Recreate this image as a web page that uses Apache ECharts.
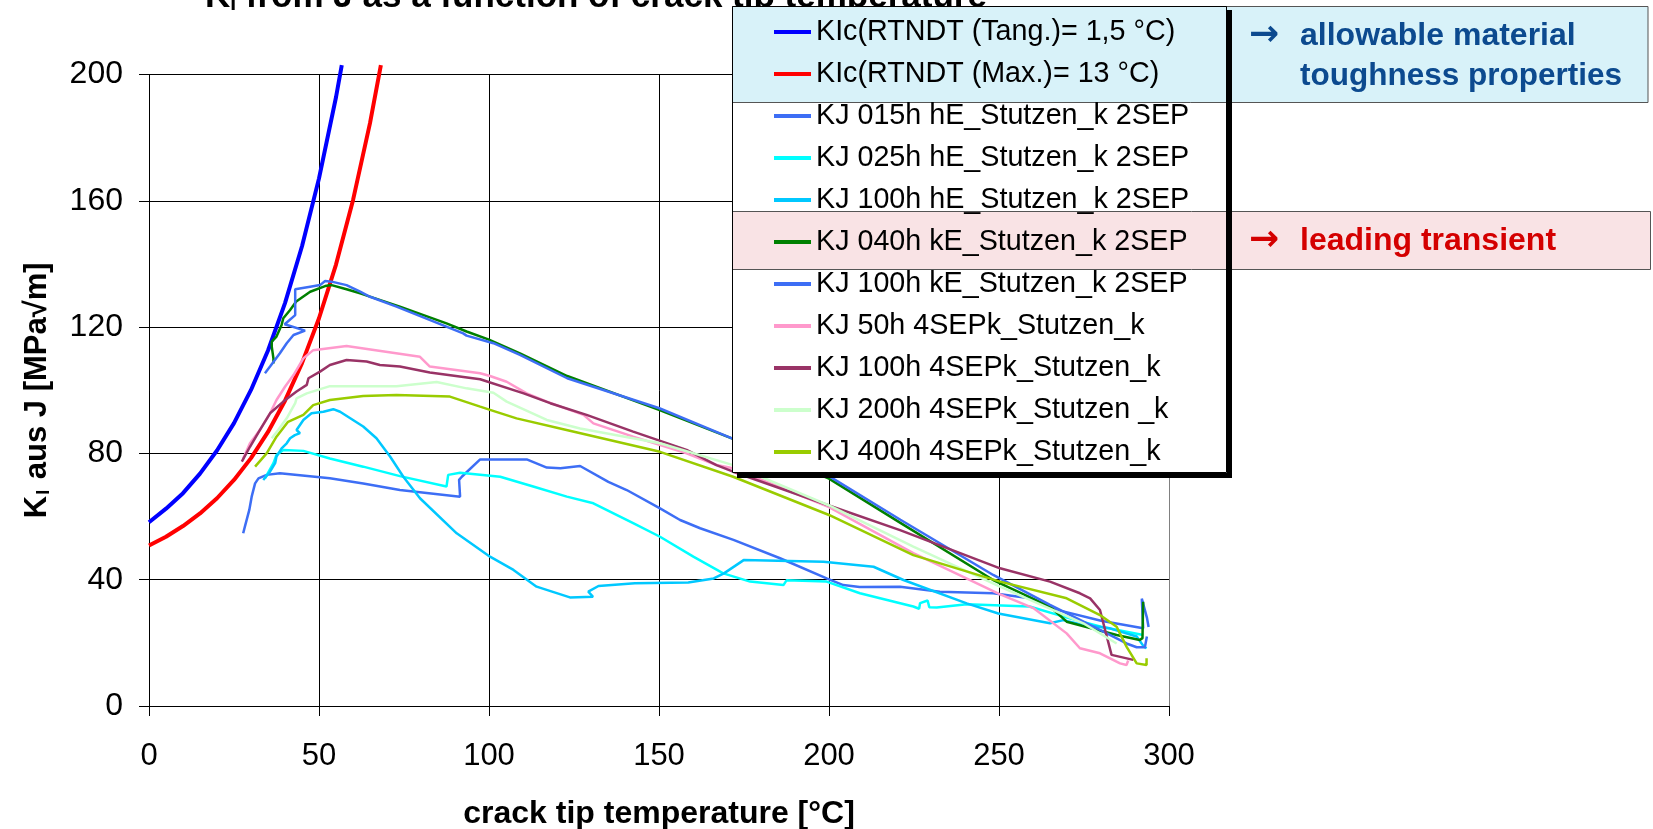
<!DOCTYPE html>
<html>
<head>
<meta charset="utf-8">
<script src="https://cdn.jsdelivr.net/npm/echarts@6/dist/echarts.min.js"></script>
<style>
  html, body { margin: 0; padding: 0; background: #ffffff; }
  #chart { width: 1653px; height: 829px; }
</style>
</head>
<body>
<div id="chart"></div>
<script>
// Axis ticks
const xTicks = [0, 50, 100, 150, 200, 250, 300];
const yTicks = [0, 40, 80, 120, 160, 200];

// Series names, in legend order
const seriesNames = [
  'KIc(RTNDT (Tang.)= 1,5 °C)',
  'KIc(RTNDT (Max.)= 13 °C)',
  'KJ 015h hE_Stutzen_k 2SEP',
  'KJ 025h hE_Stutzen_k 2SEP',
  'KJ 100h hE_Stutzen_k 2SEP',
  'KJ 040h kE_Stutzen_k 2SEP',
  'KJ 100h kE_Stutzen_k 2SEP',
  'KJ 50h 4SEPk_Stutzen_k',
  'KJ 100h 4SEPk_Stutzen_k',
  'KJ 200h 4SEPk_Stutzen _k',
  'KJ 400h 4SEPk_Stutzen_k'
];

// [crack tip temperature °C, K MPa√m]
const kicTang = [[0,58.2],[5,62.5],[10,67.4],[15,73.6],[20,80.9],[25,89.6],[30,100.1],[35,112.6],[40,127.6],[45,145.6],[50,167.1],[55,192.8],[56.7,203]];
const kicMax = [[0,50.8],[5,53.6],[10,57.0],[15,61.0],[20,65.8],[25,71.6],[30,78.5],[35,86.8],[40,96.7],[45,108.6],[50,122.8],[55,139.8],[60,160.2],[65,184.6],[68.2,203]];

const kj015hE = [[27.7,54.7],[28.2,56.8],[29.5,62.1],[30.2,66.3],[31.2,70.5],[32.2,72.1],[34.6,73.2],[38.5,73.7],[53.2,72.1],[63,70.5],[73.8,68.4],[91.5,66.3],[91.2,71.6],[92,72.6],[97.4,78.1],[111.1,78.1],[117,75.5],[121,75.3],[126.8,76],[135.1,71],[140.5,68.4],[150.3,62.6],[156.2,58.9],[162.1,56.3],[171.9,52.6],[185.6,46.8],[199.3,40.4],[204.2,38.3],[209,37.7],[220.9,37.8],[232.6,36.2],[248.3,35.7],[259.1,34.1],[268,30.2],[280,27],[292.4,24.6],[292,34],[293.5,28],[294,25]];

const kj025hE = [[34.1,72.1],[36.6,76.9],[37.5,79.5],[39.5,81.1],[45.4,80.8],[53.2,78.4],[63,75.8],[73.8,72.8],[87.5,69.5],[88,73.2],[91.5,73.9],[103.3,72.6],[113,69.5],[122.9,66.3],[130.7,64.2],[142.4,57.9],[150.3,53.6],[160.1,47.3],[168.9,42],[176.8,39.4],[186.6,38.3],[187.5,39.8],[199.3,39.4],[209.1,35.7],[224.8,31.5],[226.5,30.8],[226.8,32.6],[229,33.4],[229.5,31.3],[231.7,31.2],[240.5,32.2],[259,31.5],[270,28],[280,25.1],[292.4,22.5]];

const kj100hE = [[33.6,71.6],[35.6,74.2],[37.1,76.9],[37.5,79],[39,81.6],[40.5,83.2],[41.5,84.8],[42.9,85.8],[44.4,86.4],[43.4,87.4],[45.4,90.6],[47.8,92.7],[51.3,93.2],[54.2,94],[56.2,93.2],[63,88.5],[66.9,84.8],[70.9,79],[74.8,72.6],[79.7,65.8],[90.5,54.7],[100.3,47.3],[107.2,43.1],[114,37.8],[123.8,34.4],[130.6,34.6],[129.2,36.2],[132.2,38],[142.9,38.9],[158.6,39.1],[166.1,40.4],[169.1,42],[174.9,46.2],[198.4,45.7],[213.1,44.1],[221.9,39.9],[240.5,32.5],[249.8,29.3],[265,26.2],[268.9,27.2],[274.8,25.7],[282.6,24.6],[290.5,22],[292.6,18.8],[293.4,18.3]];

const kj040kE = [[36.6,108.5],[36.6,110.1],[36.1,113.8],[36.1,115.4],[37.5,117],[39,120.7],[39.5,122.8],[41.5,125.4],[43.3,128.1],[47.4,131.2],[51.8,133],[53.7,133.3],[58.1,132],[62.1,130.7],[73.8,126.5],[87.5,121.2],[93.4,118.6],[99.8,116.1],[109.1,111.7],[123,104.5],[150,93.8],[171.8,84.6],[200,72],[221,58],[248.3,39.9],[265,31.5],[269.9,26.7],[284.6,22.5],[291.4,20.9],[292.2,21.5],[292.4,33]];

const kj100kE = [[34.1,105.4],[35.6,107.5],[38.5,111.7],[40.5,114.9],[42.5,117.5],[45.9,118.9],[39.9,120.9],[43,123.8],[43,128.1],[43,132],[47.4,132.8],[50.3,133.3],[51.8,134.6],[53.7,134.4],[58.1,133.3],[62.1,131.2],[65,129.6],[72.8,126.5],[92.4,118],[93.4,117.3],[101.3,114.9],[109.1,111.2],[123,103.8],[150.1,94.3],[171.8,84.6],[200,72.8],[221,59],[248.3,41.5],[265,32],[279.7,24.1],[287.5,19.8],[290.5,18.6],[292.9,18.6],[293.5,22]];

const kj50h4 = [[27.7,78.4],[29.7,83.2],[32.6,87.4],[35.6,92.7],[37.5,96.9],[40,101.1],[42.5,104.8],[45.4,110.1],[48.3,112.7],[58.1,114],[79.7,110.6],[82.6,107.5],[97.4,105.4],[100.3,104.5],[105.2,102.7],[111.1,99],[117,96.4],[127.8,92.2],[130.7,89.5],[142.4,85.3],[158.1,80],[166.9,76.3],[171.8,75.3],[200,63],[224.8,48.4],[250,35.5],[260.1,31],[269.9,23],[273.8,18.3],[279.7,16.7],[285.6,13.5],[287.5,13],[288,14.4]];

const kj100h4 = [[27.3,77.4],[29.7,82.1],[32.6,87.4],[35.6,92.7],[39.5,96.4],[43.4,99.6],[46.4,101.7],[46.9,103.8],[50.3,105.9],[53.2,108],[58.1,109.6],[64,109.1],[67.9,108],[73.8,107.5],[82.6,105.6],[97.4,103.5],[110.2,99],[118,95.9],[128.7,92.2],[142.4,86.9],[158.1,81.1],[166.9,76.3],[171.8,74.2],[200,63.5],[220.9,55.7],[250.3,43.6],[265,39.4],[273.8,35.7],[276.8,34.1],[279.7,30.4],[280.7,26.2],[283.1,16.2],[289.5,14.6]];

const kj200h4 = [[36.1,84.8],[38,87.4],[40.5,91.1],[43,95.9],[43.4,97.4],[46.4,99],[53.2,101.3],[72.8,101.3],[84.6,102.6],[93.4,100.6],[101.3,99.2],[105.2,96.4],[117,90.6],[126.8,87.9],[150.3,83.2],[171.8,76.3],[200,63.5],[224.8,50.5],[250.3,37.8],[274.8,26.2],[284.6,19.8]];

const kj400h4 = [[31.2,75.8],[34.6,80],[37.5,85.3],[40.9,90],[45.4,92.2],[48.3,95.3],[53.2,96.9],[63,98.2],[72.8,98.5],[88.5,98],[97.4,94.8],[100.3,93.8],[108.1,91.1],[122.8,87.4],[150.3,80.5],[171.8,72.6],[200,60.5],[224.8,47.8],[250.3,39.4],[269.9,34.1],[279.7,28.8],[284.6,25.1],[287.5,18.8],[290.5,13.5],[293.4,13],[293.4,15.1]];

const curves = [kicTang, kicMax, kj015hE, kj025hE, kj100hE, kj040kE, kj100kE, kj50h4, kj100h4, kj200h4, kj400h4];

// Line colours per series
const palette = ['#0000ff', '#ff0000', '#3d6ef5', '#00ffff', '#00c8ff', '#008000', '#3d6ef5', '#ff99cc', '#993366', '#ccffcc', '#99cc00'];

const FONT = '"Liberation Sans", Arial, Helvetica, sans-serif';
const ARROW_FONT = '"DejaVu Sans", "Liberation Sans", sans-serif';
const BLUE_TEXT = '#0c4a8f';
const RED_TEXT = '#d40000';

const chart = echarts.init(document.getElementById('chart'), null, { renderer: 'canvas' });

const series = curves.map((pts, i) => ({
  name: seriesNames[i],
  type: 'line',
  data: pts,
  showSymbol: false,
  symbol: 'none',
  smooth: false,
  clip: false,
  z: 2,
  lineStyle: { color: palette[i], width: i < 2 ? 4 : 2.5 },
  itemStyle: { color: palette[i] }
}));

const option = {
  animation: false,
  color: palette,
  backgroundColor: '#ffffff',
  grid: { left: 149, top: 74.5, width: 1020, height: 631.5, containLabel: false, outerBoundsMode: 'none' },
  xAxis: {
    type: 'value',
    min: xTicks[0], max: xTicks[xTicks.length - 1], interval: xTicks[1] - xTicks[0],
    name: 'crack tip temperature [°C]',
    nameLocation: 'middle', nameGap: 92,
    nameTextStyle: { fontFamily: FONT, fontSize: 32, fontWeight: 'bold', color: '#000' },
    axisLine: { show: true, onZero: false, lineStyle: { color: '#000', width: 1 } },
    axisTick: { show: true, inside: false, length: 10, lineStyle: { color: '#000' } },
    axisLabel: { margin: 35, fontFamily: FONT, fontSize: 31, color: '#000' },
    splitLine: { show: true, lineStyle: { color: ['#000', '#000', '#000', '#000', '#000', '#000', '#808080'], width: 1 } }
  },
  yAxis: {
    type: 'value',
    min: yTicks[0], max: yTicks[yTicks.length - 1], interval: yTicks[1] - yTicks[0],
    name: '{a|K}{b|I}{a| aus J [MPa√m]}',
    nameLocation: 'middle', nameGap: 96,
    nameTextStyle: {
      fontFamily: FONT, fontSize: 31, fontWeight: 'bold', color: '#000',
      rich: {
        a: { fontFamily: FONT, fontSize: 31, fontWeight: 'bold', color: '#000' },
        b: { fontFamily: FONT, fontSize: 18, fontWeight: 'bold', color: '#000', verticalAlign: 'bottom', padding: [0, 2, 0, 1] }
      }
    },
    axisLine: { show: true, onZero: false, lineStyle: { color: '#000', width: 1 } },
    axisTick: { show: true, inside: false, length: 10, lineStyle: { color: '#000' } },
    axisLabel: { margin: 26, fontFamily: FONT, fontSize: 32, color: '#000' },
    splitLine: { show: true, lineStyle: { color: '#000', width: 1 } }
  },
  legend: {
    orient: 'vertical',
    left: 774, top: 17,
    padding: 0,
    itemGap: 12,
    itemWidth: 37, itemHeight: 4,
    icon: 'rect',
    selectedMode: false,
    z: 30,
    textStyle: { fontFamily: FONT, fontSize: 28.7, color: '#000', lineHeight: 30 },
    data: seriesNames
  },
  graphic: [
    // chart heading, running off the top edge
    {
      type: 'text', z: 5, x: 205, y: 15,
      style: {
        text: '{a|K}{b|I}{a| from J as a function of crack tip temperature}',
        verticalAlign: 'bottom', align: 'left',
        rich: {
          a: { fontFamily: FONT, fontSize: 35, fontWeight: 'bold', fill: '#000' },
          b: { fontFamily: FONT, fontSize: 21, fontWeight: 'bold', fill: '#000', verticalAlign: 'bottom' }
        }
      }
    },
    // legend panel
    { type: 'rect', z: 10, shape: { x: 732, y: 6, width: 495, height: 467 }, style: { fill: '#ffffff' } },
    // highlight bands
    { type: 'rect', z: 11, shape: { x: 732.5, y: 6.5, width: 915.5, height: 96 }, style: { fill: '#d8f2f9', stroke: '#555', lineWidth: 1 } },
    { type: 'rect', z: 11, shape: { x: 732.5, y: 211.5, width: 918, height: 58 }, style: { fill: '#f9e3e5', stroke: '#555', lineWidth: 1 } },
    // legend frame and drop shadow
    { type: 'rect', z: 12, shape: { x: 732.5, y: 6.5, width: 494, height: 466 }, style: { fill: null, stroke: '#000', lineWidth: 1 } },
    { type: 'rect', z: 12, shape: { x: 1227, y: 10, width: 5, height: 468 }, style: { fill: '#000' } },
    { type: 'rect', z: 12, shape: { x: 737, y: 473, width: 495, height: 5 }, style: { fill: '#000' } },
    // notes
    { type: 'text', z: 13, x: 1249, y: 36, style: { text: '→', fontFamily: ARROW_FONT, fontSize: 36, fontWeight: 'bold', fill: BLUE_TEXT, verticalAlign: 'middle', align: 'left' } },
    { type: 'text', z: 13, x: 1300, y: 36, style: { text: 'allowable material', fontFamily: FONT, fontSize: 32, fontWeight: 'bold', fill: BLUE_TEXT, verticalAlign: 'middle', align: 'left' } },
    { type: 'text', z: 13, x: 1300, y: 76, style: { text: 'toughness properties', fontFamily: FONT, fontSize: 31.5, fontWeight: 'bold', fill: BLUE_TEXT, verticalAlign: 'middle', align: 'left' } },
    { type: 'text', z: 13, x: 1249, y: 241, style: { text: '→', fontFamily: ARROW_FONT, fontSize: 36, fontWeight: 'bold', fill: RED_TEXT, verticalAlign: 'middle', align: 'left' } },
    { type: 'text', z: 13, x: 1300, y: 241, style: { text: 'leading transient', fontFamily: FONT, fontSize: 32, fontWeight: 'bold', fill: RED_TEXT, verticalAlign: 'middle', align: 'left' } }
  ],
  series: series
};

chart.setOption(option);
</script>
</body>
</html>
